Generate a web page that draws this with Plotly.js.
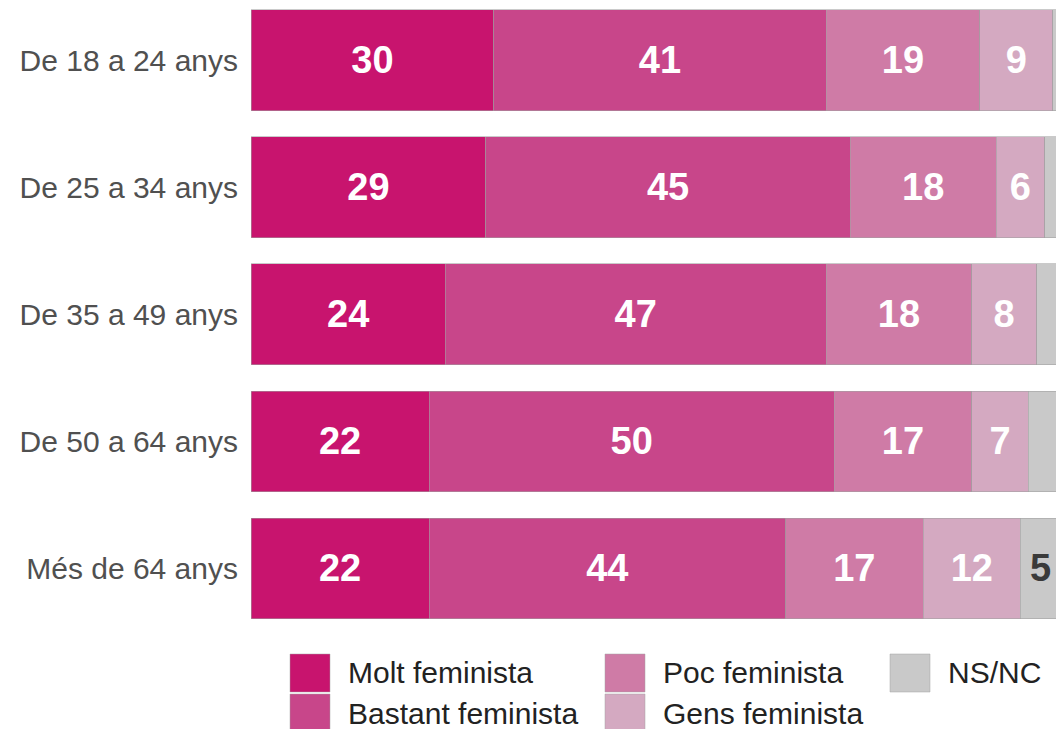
<!DOCTYPE html>
<html>
<head>
<meta charset="utf-8">
<script src="https://cdn.plot.ly/plotly-3.0.1.min.js"></script>
<style>html,body{margin:0;padding:0;background:#fff;}#chart{width:1056px;height:729px;}</style>
</head>
<body>
<div id="chart"></div>
<script>
var categories = ["De 18 a 24 anys", "De 25 a 34 anys", "De 35 a 49 anys", "De 50 a 64 anys", "Més de 64 anys"];
var seriesNames = ["Molt feminista", "Bastant feminista", "Poc feminista", "Gens feminista", "NS/NC"];
var molt    = [30, 29, 24, 22, 22];
var bastant = [41, 45, 47, 50, 44];
var poc     = [19, 18, 18, 17, 17];
var gens    = [9, 6, 8, 7, 12];
var nsnc    = [1, 2, 3, 4, 5];
var nsncLabels = ["", "", "", "", "5"];
var colors = ["#c8146e", "#c8468a", "#cf7ba6", "#d4a9c1", "#c9c9c9"];
var labelColors = ["#ffffff", "#ffffff", "#ffffff", "#ffffff", "#3a3a3a"];

var values = [molt, bastant, poc, gens, nsnc];
var W = 1056, H = 729, ML = 251, MB = 97;
var plotW = W - ML, plotH = H - MB;

var traces = values.map(function(v, i) {
  var txt = (i === 4) ? nsncLabels : v.map(String);
  return {
    type: 'bar', orientation: 'h', name: seriesNames[i],
    y: categories, x: v, text: txt, textposition: 'inside',
    insidetextanchor: 'middle', textangle: 0, constraintext: 'none',
    insidetextfont: {family: 'Liberation Sans, Arial, sans-serif', size: 38, color: labelColors[i], weight: 'bold'},
    marker: {color: colors[i], line: {color: 'rgba(160,160,160,0.7)', width: 0.8}},
    hoverinfo: 'none', showlegend: false, cliponaxis: true
  };
});

// custom legend (column-major, 3 columns)
var legendPos = [[290, 673], [290, 713], [605, 673], [605, 713], [890, 673]];
var shapes = [], annotations = [];
function px2x(p) { return (p - ML) / plotW; }
function py2y(p) { return (plotH - p) / plotH; }
seriesNames.forEach(function(n, i) {
  var p = legendPos[i];
  shapes.push({type: 'rect', xref: 'paper', yref: 'paper',
    x0: px2x(p[0]), x1: px2x(p[0] + 40), y0: py2y(p[1] - 19), y1: py2y(p[1] + 19),
    fillcolor: colors[i], line: {color: 'rgba(160,160,160,0.6)', width: 0.8}});
  annotations.push({xref: 'paper', yref: 'paper', x: px2x(p[0] + 56), y: py2y(p[1]),
    xanchor: 'left', yanchor: 'middle', showarrow: false, text: n,
    font: {family: 'Liberation Sans, Arial, sans-serif', size: 30, color: '#222'}});
});

var layout = {
  width: W, height: H, barmode: 'stack', bargap: 0.205,
  margin: {l: ML, r: 0, t: 0, b: MB, pad: 0},
  paper_bgcolor: '#fff', plot_bgcolor: '#fff',
  xaxis: {range: [0, 99.4], visible: false, showgrid: false, zeroline: false, fixedrange: true},
  yaxis: {type: 'category', categoryorder: 'array', categoryarray: categories,
    range: [4.5, -0.476], showgrid: false, zeroline: false, showline: false, ticks: '',
    ticklabelstandoff: 12,
    tickfont: {family: 'Liberation Sans, Arial, sans-serif', size: 30, color: '#505050'}},
  shapes: shapes, annotations: annotations, showlegend: false
};

Plotly.newPlot('chart', traces, layout, {displayModeBar: false, staticPlot: true});
</script>
</body>
</html>
